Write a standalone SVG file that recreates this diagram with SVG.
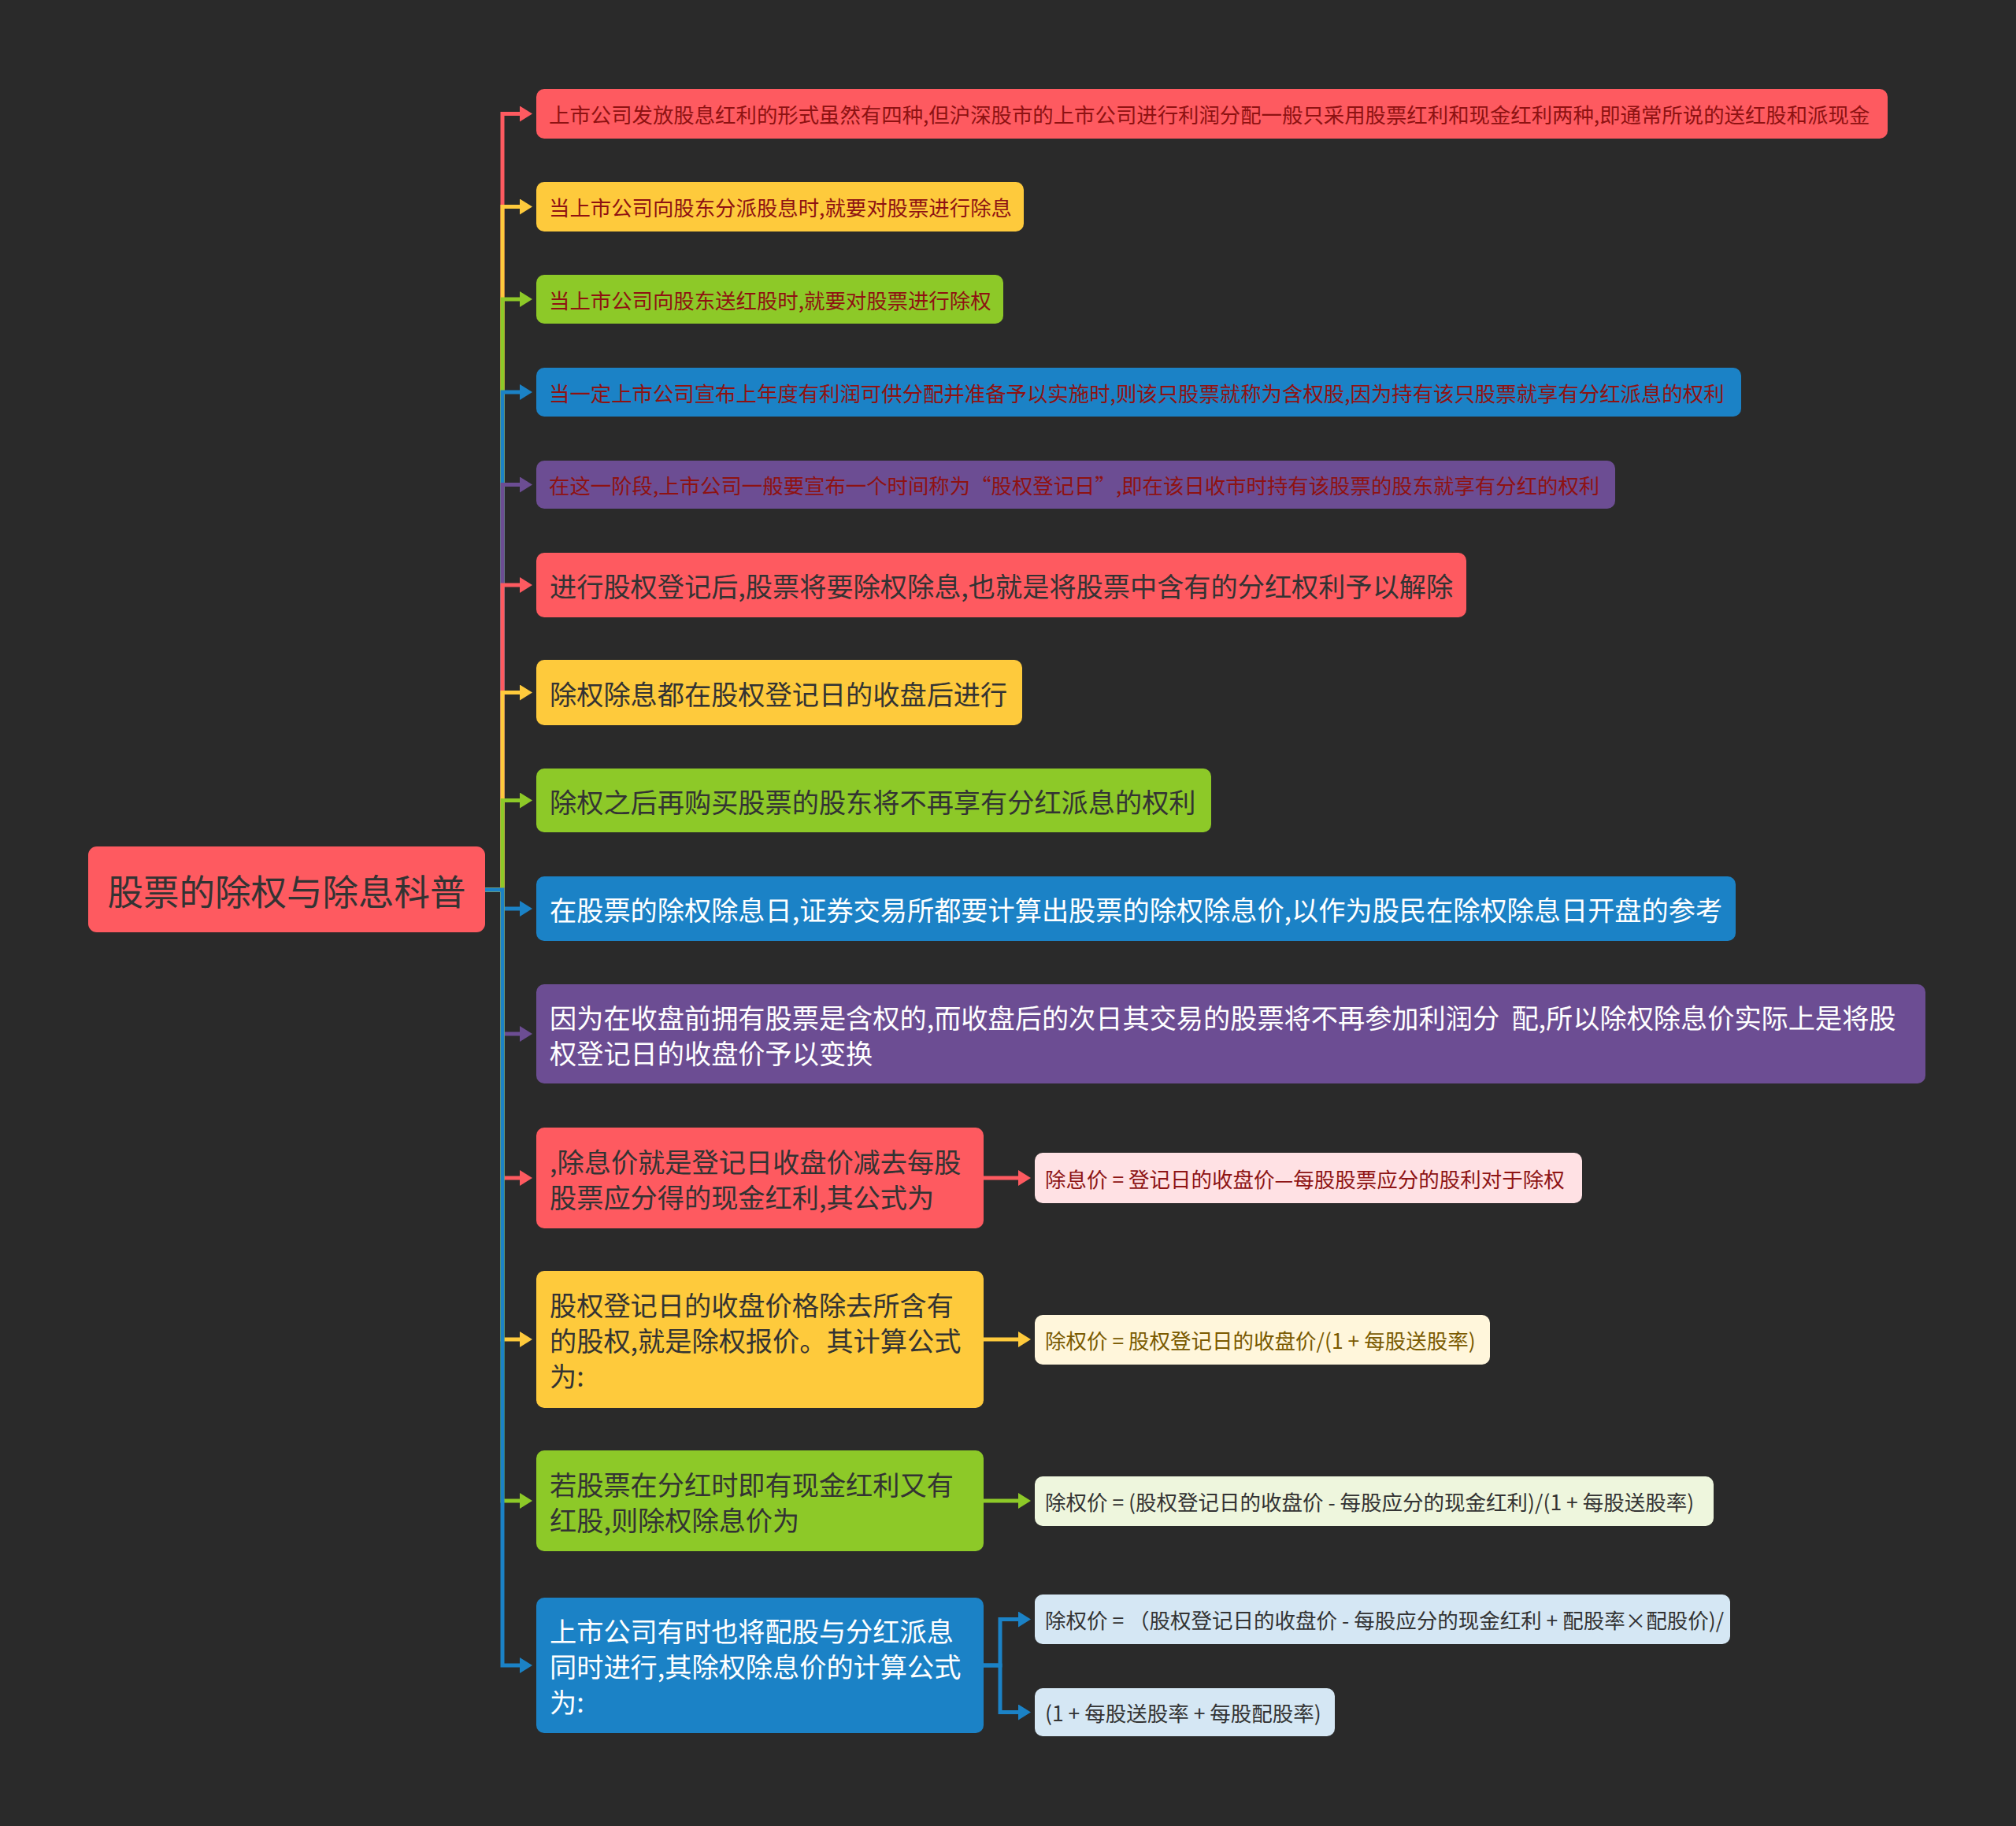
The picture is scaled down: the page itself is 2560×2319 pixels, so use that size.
<svg xmlns="http://www.w3.org/2000/svg" width="2560" height="2319" viewBox="0 0 2560 2319">
<defs>
<style>
text{font-family:"Noto Sans CJK SC","Noto Sans",sans-serif;dominant-baseline:central}
.sm{font-size:26.4px;fill:#8E1212}
.lg{font-size:34.2px;fill:#333333}
.lgw{font-size:34.2px;fill:#ffffff}
.root{font-size:45.5px;fill:#333333}
.ch{font-size:26.5px}
.e{fill:none;stroke-width:5;stroke-linejoin:miter}
.red{fill:#FE5A60}.yel{fill:#FECA3C}.grn{fill:#8DC928}.blu{fill:#1B82C6}.pur{fill:#6C4D93}
</style>
<marker id="aR" viewBox="0 0 16 20" refX="2" refY="10" markerWidth="16" markerHeight="20" markerUnits="userSpaceOnUse" orient="auto"><path d="M0,0 L16,10 L0,20 z" fill="#FE5A60"/></marker>
<marker id="aY" viewBox="0 0 16 20" refX="2" refY="10" markerWidth="16" markerHeight="20" markerUnits="userSpaceOnUse" orient="auto"><path d="M0,0 L16,10 L0,20 z" fill="#FECA3C"/></marker>
<marker id="aG" viewBox="0 0 16 20" refX="2" refY="10" markerWidth="16" markerHeight="20" markerUnits="userSpaceOnUse" orient="auto"><path d="M0,0 L16,10 L0,20 z" fill="#8DC928"/></marker>
<marker id="aB" viewBox="0 0 16 20" refX="2" refY="10" markerWidth="16" markerHeight="20" markerUnits="userSpaceOnUse" orient="auto"><path d="M0,0 L16,10 L0,20 z" fill="#1B82C6"/></marker>
<marker id="aP" viewBox="0 0 16 20" refX="2" refY="10" markerWidth="16" markerHeight="20" markerUnits="userSpaceOnUse" orient="auto"><path d="M0,0 L16,10 L0,20 z" fill="#6C4D93"/></marker>
</defs>
<rect x="0" y="0" width="2560" height="2319" fill="#2A2A2A"/>

<g id="connectors">
<path class="e" stroke="#FE5A60" marker-end="url(#aR)" d="M616 1130 H638 V144.5 H662"/>
<path class="e" stroke="#FECA3C" marker-end="url(#aY)" d="M616 1130 H638 V262.5 H662"/>
<path class="e" stroke="#8DC928" marker-end="url(#aG)" d="M616 1130 H638 V380 H662"/>
<path class="e" stroke="#1B82C6" marker-end="url(#aB)" d="M616 1130 H638 V498 H662"/>
<path class="e" stroke="#6C4D93" marker-end="url(#aP)" d="M616 1130 H638 V615.5 H662"/>
<path class="e" stroke="#FE5A60" marker-end="url(#aR)" d="M616 1130 H638 V743 H662"/>
<path class="e" stroke="#FECA3C" marker-end="url(#aY)" d="M616 1130 H638 V879.5 H662"/>
<path class="e" stroke="#8DC928" marker-end="url(#aG)" d="M616 1130 H638 V1016.5 H662"/>
<path class="e" stroke="#1B82C6" marker-end="url(#aB)" d="M616 1130 H638 V1154 H662"/>
<path class="e" stroke="#6C4D93" marker-end="url(#aP)" d="M616 1130 H638 V1313 H662"/>
<path class="e" stroke="#FE5A60" marker-end="url(#aR)" d="M616 1130 H638 V1496 H662"/>
<path class="e" stroke="#FECA3C" marker-end="url(#aY)" d="M616 1130 H638 V1701 H662"/>
<path class="e" stroke="#8DC928" marker-end="url(#aG)" d="M616 1130 H638 V1906 H662"/>
<path class="e" stroke="#1B82C6" marker-end="url(#aB)" d="M616 1130 H638 V2115 H662"/>
<path class="e" stroke="#FE5A60" marker-end="url(#aR)" d="M1249 1496 H1295"/>
<path class="e" stroke="#FECA3C" marker-end="url(#aY)" d="M1249 1701 H1295"/>
<path class="e" stroke="#8DC928" marker-end="url(#aG)" d="M1249 1906 H1295"/>
<path class="e" stroke="#1B82C6" marker-end="url(#aB)" d="M1249 2115 H1270 V2056.5 H1295"/>
<path class="e" stroke="#1B82C6" marker-end="url(#aB)" d="M1249 2115 H1270 V2174.5 H1295"/>
</g>

<g id="root">
<rect class="red" x="112" y="1075" width="504" height="109" rx="11"/>
<text class="root" x="364" y="1130" text-anchor="middle">股票的除权与除息科普</text>
</g>

<g id="n1">
<rect class="red" x="681" y="113" width="1716" height="63" rx="10"/>
<text class="sm" x="697" y="144.5">上市公司发放股息红利的形式虽然有四种,但沪深股市的上市公司进行利润分配一般只采用股票红利和现金红利两种,即通常所说的送红股和派现金</text>
</g>
<g id="n2">
<rect class="yel" x="681" y="231" width="619" height="63" rx="10"/>
<text class="sm" x="697" y="262.5">当上市公司向股东分派股息时,就要对股票进行除息</text>
</g>
<g id="n3">
<rect class="grn" x="681" y="349" width="593" height="62" rx="10"/>
<text class="sm" x="697" y="380">当上市公司向股东送红股时,就要对股票进行除权</text>
</g>
<g id="n4">
<rect class="blu" x="681" y="467" width="1530" height="62" rx="10"/>
<text class="sm" x="697" y="498">当一定上市公司宣布上年度有利润可供分配并准备予以实施时,则该只股票就称为含权股,因为持有该只股票就享有分红派息的权利</text>
</g>
<g id="n5">
<rect class="pur" x="681" y="585" width="1370" height="61" rx="10"/>
<text class="sm" x="697" y="615.5">在这一阶段,上市公司一般要宣布一个时间称为“股权登记日”,即在该日收市时持有该股票的股东就享有分红的权利</text>
</g>
<g id="n6">
<rect class="red" x="681" y="702" width="1181" height="82" rx="10"/>
<text class="lg" x="698" y="743">进行股权登记后,股票将要除权除息,也就是将股票中含有的分红权利予以解除</text>
</g>
<g id="n7">
<rect class="yel" x="681" y="838" width="617" height="83" rx="10"/>
<text class="lg" x="698" y="879.5">除权除息都在股权登记日的收盘后进行</text>
</g>
<g id="n8">
<rect class="grn" x="681" y="976" width="857" height="81" rx="10"/>
<text class="lg" x="698" y="1016.5">除权之后再购买股票的股东将不再享有分红派息的权利</text>
</g>
<g id="n9">
<rect class="blu" x="681" y="1113" width="1523" height="82" rx="10"/>
<text class="lgw" x="698" y="1154">在股票的除权除息日,证券交易所都要计算出股票的除权除息价,以作为股民在除权除息日开盘的参考</text>
</g>
<g id="n10">
<rect class="pur" x="681" y="1250" width="1764" height="126" rx="10"/>
<text class="lgw" x="698" y="1290.5">因为在收盘前拥有股票是含权的,而收盘后的次日其交易的股票将不再参加利润分&#160;&#160;配,所以除权除息价实际上是将股</text>
<text class="lgw" x="698" y="1335.5">权登记日的收盘价予以变换</text>
</g>
<g id="n11">
<rect class="red" x="681" y="1432" width="568" height="128" rx="10"/>
<text class="lg" x="698" y="1473.5">,除息价就是登记日收盘价减去每股</text>
<text class="lg" x="698" y="1518.5">股票应分得的现金红利,其公式为</text>
</g>
<g id="n12">
<rect class="yel" x="681" y="1614" width="568" height="174" rx="10"/>
<text class="lg" x="698" y="1656">股权登记日的收盘价格除去所含有</text>
<text class="lg" x="698" y="1701">的股权,就是除权报价。其计算公式</text>
<text class="lg" x="698" y="1746">为:</text>
</g>
<g id="n13">
<rect class="grn" x="681" y="1842" width="568" height="128" rx="10"/>
<text class="lg" x="698" y="1883.5">若股票在分红时即有现金红利又有</text>
<text class="lg" x="698" y="1928.5">红股,则除权除息价为</text>
</g>
<g id="n14">
<rect class="blu" x="681" y="2029" width="568" height="172" rx="10"/>
<text class="lgw" x="698" y="2070">上市公司有时也将配股与分红派息</text>
<text class="lgw" x="698" y="2115">同时进行,其除权除息价的计算公式</text>
<text class="lgw" x="698" y="2160">为:</text>
</g>

<g id="c11">
<rect x="1314" y="1464" width="695" height="64" rx="10" fill="#FFE1E4"/>
<text class="ch" x="1327" y="1496" fill="#8E1414">除息价 = 登记日的收盘价—每股股票应分的股利对于除权</text>
</g>
<g id="c12">
<rect x="1314" y="1670" width="578" height="63" rx="10" fill="#FFF6DB"/>
<text class="ch" x="1327" y="1701.5" fill="#7A5A00">除权价 = 股权登记日的收盘价/(1 + 每股送股率)</text>
</g>
<g id="c13">
<rect x="1314" y="1875" width="862" height="63" rx="10" fill="#EEF6DD"/>
<text class="ch" x="1327" y="1906.5" fill="#333333">除权价 = (股权登记日的收盘价 - 每股应分的现金红利)/(1 + 每股送股率)</text>
</g>
<g id="c14a">
<rect x="1314" y="2025" width="883" height="63" rx="10" fill="#D5E7F4"/>
<text class="ch" x="1327" y="2056.5" fill="#333333">除权价 = （股权登记日的收盘价 - 每股应分的现金红利 + 配股率×配股价)/</text>
</g>
<g id="c14b">
<rect x="1314" y="2144" width="381" height="61" rx="10" fill="#D5E7F4"/>
<text class="ch" x="1327" y="2174.5" fill="#333333">(1 + 每股送股率 + 每股配股率)</text>
</g>
</svg>
